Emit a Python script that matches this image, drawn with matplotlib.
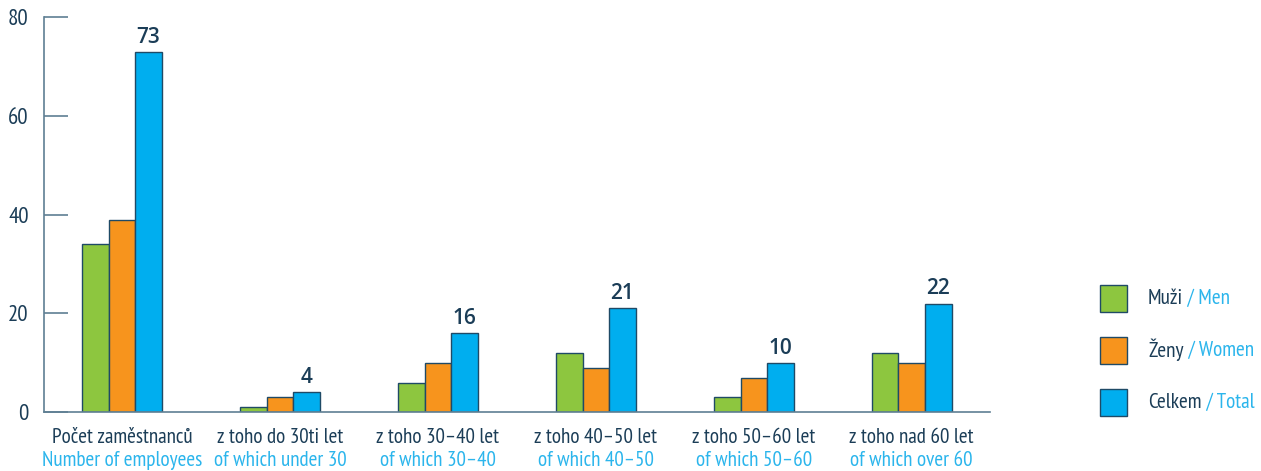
# grouped bars: employees by age group

import numpy as np
import matplotlib.pyplot as plt
from matplotlib.patches import Rectangle
from matplotlib.transforms import blended_transform_factory

cats_cz = ['Počet zaměstnanců', 'z toho do 30ti let', 'z toho 30–40 let',
           'z toho 40–50 let', 'z toho 50–60 let', 'z toho nad 60 let']
cats_en = ['Number of employees', 'of which under 30', 'of which 30–40',
           'of which 40–50', 'of which 50–60', 'of which over 60']
men   = [34, 1, 6, 12, 3, 12]
women = [39, 3, 10, 9, 7, 10]
total = [73, 4, 16, 21, 10, 22]
series_cz = ['Muži', 'Ženy', 'Celkem']
series_en = ['Men', 'Women', 'Total']
yticks = [0, 20, 40, 60, 80]

navy  = '#1b3d57'
light = '#2bb5ec'
axcol = '#5f7f93'
edge  = '#1f4a66'
colors = ['#8dc63f', '#f7941d', '#00aeef']

narrow = ['PT Sans Narrow', 'DejaVu Sans']
plt.rcParams['font.family'] = narrow

fig = plt.figure(figsize=(12.61, 4.71), dpi=100)
ax = fig.add_axes([0.0349, 0.125, 0.750, 0.8386])

x = np.arange(len(cats_cz))
w = 0.168
for k, vals in enumerate([men, women, total]):
    ax.bar(x + (k - 1) * w, vals, w, color=colors[k], edgecolor=edge, linewidth=1.0, zorder=2)

for i, v in enumerate(total):
    ax.annotate(str(v), (x[i] + w, v), xytext=(0, 3), textcoords='offset points',
                ha='center', va='bottom', fontsize=15, color=navy, fontweight='semibold',
                family=['Open Sans', 'DejaVu Sans'])

ax.set_xlim(-0.494, 5.494)
ax.set_ylim(0, 80)
ax.set_yticks(yticks)
ax.set_xticks([])
ax.tick_params(axis='y', direction='in', length=17, width=1.2, color=axcol,
               labelsize=16.5, labelcolor=navy, pad=11)
for lab in ax.get_yticklabels():
    lab.set_family(narrow)
for s in ['top', 'right']:
    ax.spines[s].set_visible(False)
for s in ['left', 'bottom']:
    ax.spines[s].set_color(axcol)
    ax.spines[s].set_linewidth(1.2)

tr = blended_transform_factory(ax.transData, ax.transAxes)
for i in range(len(cats_cz)):
    ax.annotate(cats_cz[i], (x[i], 0), xycoords=tr, xytext=(0, -18), textcoords='offset points',
                ha='center', va='center', fontsize=15.2, color=navy, family=narrow)
    ax.annotate(cats_en[i], (x[i], 0), xycoords=tr, xytext=(0, -35), textcoords='offset points',
                ha='center', va='center', fontsize=15.2, color=light, family=narrow)

# legend drawn by hand (two-colour labels)
W, H = 1261, 471
for k in range(3):
    cy = 298 + k * 52
    fig.add_artist(Rectangle((1100 / W, 1 - (cy + 13.5) / H), 27 / W, 27 / H,
                             transform=fig.transFigure, facecolor=colors[k],
                             edgecolor=edge, linewidth=1.0))
    t = fig.text(1148 / W, 1 - cy / H, series_cz[k], fontsize=15.3, color=navy,
                 va='center', ha='left', family=narrow)
    fig.canvas.draw()
    bb = t.get_window_extent()
    fig.text(bb.x1 / W, 1 - cy / H, ' / ' + series_en[k], fontsize=15.3, color=light,
             va='center', ha='left', family=narrow)

fig.savefig('out.png', dpi=100)
